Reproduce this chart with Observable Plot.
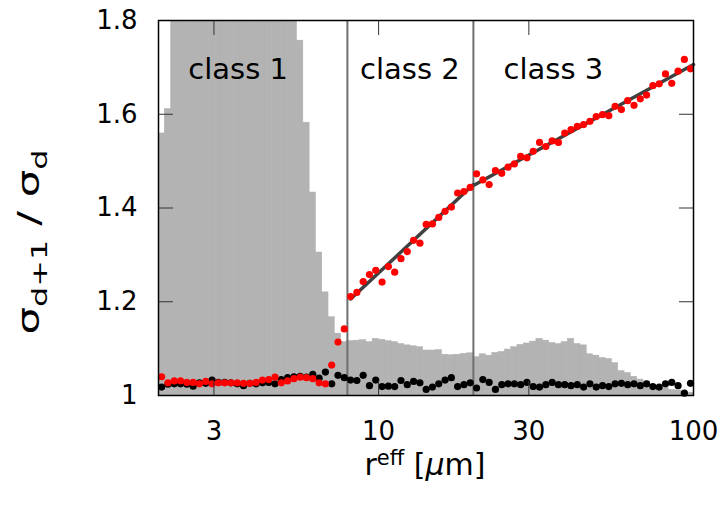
<!DOCTYPE html>
<html><head><meta charset="utf-8">
<script src="https://cdn.jsdelivr.net/npm/d3@7"></script>
<script src="https://cdn.jsdelivr.net/npm/@observablehq/plot@0.6"></script>
<style>body{margin:0;background:#fff} #chart{width:723px;height:506px}</style>
</head><body><div id="chart"></div>
<script>
// log-spaced bin edges of r_eff [µm]
const binEdges = [2.000,2.094,2.193,2.296,2.405,2.518,2.637,2.761,2.891,3.027,
  3.170,3.320,3.476,3.640,3.811,3.991,4.179,4.376,4.582,4.798,
  5.024,5.261,5.509,5.768,6.040,6.325,6.623,6.935,7.262,7.604,
  7.962,8.337,8.730,9.142,9.572,10.02,10.50,10.99,11.51,12.05,
  12.62,13.22,13.84,14.49,15.17,15.89,16.64,17.42,18.24,19.10,
  20.00,20.94,21.93,22.96,24.05,25.18,26.37,27.61,28.91,30.27,
  31.70,33.20,34.76,36.40,38.11,39.91,41.79,43.76,45.82,47.98,
  50.24,52.61,55.09,57.68,60.40,63.25,66.23,69.35,72.62,76.04,
  79.62,83.37,87.30,91.42,95.72,100.0];
// histogram (drawn on the ratio axis, clipped at the top)
const histTop = [1.559,1.611,1.86,1.95,2.05,2.15,2.25,2.35,2.42,2.48,
  2.52,2.55,2.56,2.55,2.52,2.48,2.42,2.34,2.24,2.12,
  1.99,1.87,1.757,1.582,1.433,1.305,1.220,1.167,1.132,1.114,
  1.116,1.117,1.118,1.114,1.121,1.119,1.116,1.114,1.110,1.107,
  1.105,1.103,1.096,1.096,1.097,1.087,1.086,1.087,1.089,1.090,
  1.082,1.088,1.085,1.091,1.093,1.098,1.103,1.108,1.111,1.115,
  1.121,1.117,1.112,1.110,1.114,1.121,1.110,1.107,1.088,1.085,
  1.080,1.078,1.069,1.052,1.048,1.040,1.034,1.030,1.023,1.018,
  1.016,1.012,1.011,1.008,1.006];
// sigma_{d+1}/sigma_d, red series
const ratioRed = [1.040,1.027,1.031,1.031,1.028,1.028,1.025,1.030,1.025,1.027,
  1.027,1.027,1.027,1.026,1.026,1.028,1.033,1.034,1.039,1.027,
  1.031,1.036,1.039,1.038,1.036,1.027,1.025,1.065,1.114,1.142,
  1.211,1.220,1.243,1.258,1.267,1.242,1.275,1.263,1.292,1.307,
  1.331,1.325,1.365,1.366,1.380,1.393,1.402,1.432,1.435,1.444,
  1.473,1.460,1.450,1.480,1.474,1.487,1.494,1.510,1.507,1.521,
  1.540,1.531,1.543,1.540,1.560,1.567,1.574,1.578,1.585,1.595,
  1.599,1.597,1.617,1.610,1.629,1.619,1.633,1.641,1.661,1.665,
  1.686,1.666,1.692,1.717,1.697];
// black series
const ratioBlack = [1.018,1.024,1.025,1.025,1.024,1.020,1.027,1.026,1.033,1.028,
  1.028,1.027,1.025,1.021,1.026,1.025,1.027,1.028,1.025,1.034,
  1.038,1.040,1.041,1.039,1.045,1.037,1.050,1.025,1.043,1.038,
  1.033,1.032,1.043,1.021,1.033,1.019,1.020,1.019,1.032,1.023,
  1.030,1.027,1.013,1.018,1.025,1.033,1.038,1.019,1.023,1.027,
  1.016,1.034,1.028,1.013,1.023,1.025,1.025,1.023,1.028,1.019,
  1.018,1.023,1.028,1.023,1.023,1.021,1.023,1.018,1.025,1.018,
  1.021,1.019,1.025,1.026,1.023,1.025,1.021,1.025,1.019,1.018,
  1.025,1.028,1.021,1.005,1.026];
const classBounds = [7.96, 20];
const fit2X = [8.15, 20], fit2Y = [1.206, 1.450];
const fit3X = [20, 100], fit3Y = [1.448, 1.706];
const classLabels = ["class 1", "class 2", "class 3"];
const classLabelX = [3.58, 12.57, 35.9];
const classLabelY = [1.694, 1.694, 1.694];
const yTicks = [1, 1.2, 1.4, 1.6, 1.8];
const xTicks = [3, 10, 30, 100];

const bins = histTop.map((h, i) => ({
  x1: binEdges[i], x2: binEdges[i + 1], top: h,
  xc: Math.sqrt(binEdges[i] * binEdges[i + 1]),
  red: ratioRed[i], black: ratioBlack[i]
}));
const fit2 = fit2X.map((x, i) => ({x, y: fit2Y[i]}));
const fit3 = fit3X.map((x, i) => ({x, y: fit3Y[i]}));
const labels = classLabels.map((t, i) => ({t, x: classLabelX[i], y: classLabelY[i]}));
const fmt = d3.format("~g");

const chart = Plot.plot({
  width: 723, height: 506,
  marginLeft: 158, marginRight: 30, marginTop: 20, marginBottom: 111,
  x: {type: "log", domain: [2, 100]},
  y: {domain: [1, 1.8]},
  style: {fontFamily: "DejaVu Sans", fontSize: "26px", color: "black", background: "white"},
  marks: [
    Plot.rect(bins, {x1: "x1", x2: "x2", y1: 1, y2: "top", fill: "#b3b3b3", stroke: "#afafaf", strokeWidth: 0.5, clip: true}),
    Plot.ruleX(classBounds, {stroke: "#6e6e6e", strokeWidth: 2}),
    Plot.line(fit2, {x: "x", y: "y", stroke: "#404040", strokeWidth: 3.5}),
    Plot.line(fit3, {x: "x", y: "y", stroke: "#404040", strokeWidth: 3.5}),
    Plot.dot(bins, {x: "xc", y: "black", r: 3.6, fill: "black"}),
    Plot.dot(bins, {x: "xc", y: "red", r: 3.6, fill: "#ff0000"}),
    Plot.text(labels, {x: "x", y: "y", text: "t", fontSize: 29, fill: "black"}),
    Plot.axisY(yTicks, {anchor: "left", tickSize: -15, tickPadding: 36, tickFormat: fmt, label: null, stroke: "#333"}),
    Plot.axisY(yTicks, {anchor: "right", tickSize: -15, tickFormat: () => "", label: null, stroke: "#333"}),
    Plot.axisX(xTicks, {anchor: "bottom", tickSize: -14, tickPadding: 40, tickFormat: fmt, label: null, stroke: "#333"}),
    Plot.axisX(xTicks, {anchor: "top", tickSize: -14, tickFormat: () => "", label: null, stroke: "#333"}),
    Plot.frame({stroke: "black", strokeWidth: 1.5})
  ]
});
document.getElementById("chart").appendChild(chart);

const svg = d3.select(chart);
const xl = svg.append("text").attr("x", 425).attr("y", 475).attr("text-anchor", "middle")
  .style("font-size", "30px").style("font-family", "DejaVu Sans").attr("fill", "black");
xl.append("tspan").text("r");
xl.append("tspan").attr("dy", -10).style("font-size", "21px").text("eff");
xl.append("tspan").attr("dy", 10).text(" [");
xl.append("tspan").style("font-style", "italic").text("μ");
xl.append("tspan").text("m]");

const yl = svg.append("text").attr("transform", "translate(39,242) rotate(-90) scale(1.45,1)").attr("text-anchor", "middle")
  .style("font-size", "30px").style("font-family", "DejaVu Sans").attr("fill", "black");
yl.append("tspan").text("σ");
yl.append("tspan").attr("dy", 8).style("font-size", "22px").text("d+1");
yl.append("tspan").attr("dy", -8).text(" / σ");
yl.append("tspan").attr("dy", 8).style("font-size", "22px").text("d");
</script>
</body></html>
